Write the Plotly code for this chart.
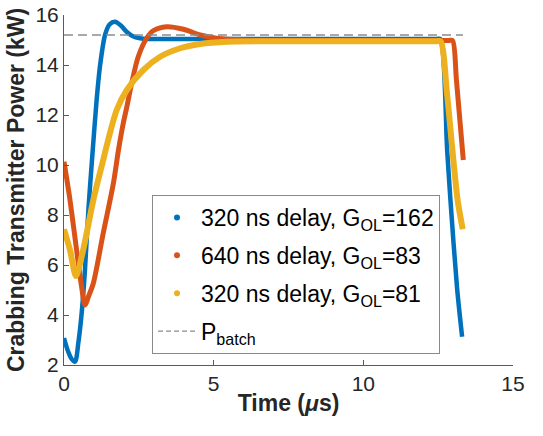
import plotly.graph_objects as go

# ---- data ----
t_blue = [0.0, 0.12, 0.25, 0.37, 0.48, 0.59, 0.70, 0.82, 0.96, 1.09, 1.20, 1.37, 1.52, 1.70,
          1.90, 2.09, 2.30, 2.54, 2.80, 3.5, 6.0, 10.0, 12.0, 12.45, 12.57, 12.80, 12.91, 13.13, 13.30]
p_blue = [3.08, 2.6, 2.25, 2.13, 2.9, 4.07, 5.8, 8.3, 10.6, 12.6, 13.93, 15.2, 15.62, 15.73,
          15.58, 15.33, 15.15, 15.07, 15.04, 15.04, 15.04, 15.04, 15.04, 15.04, 15.04, 10.6, 8.6, 5.1, 3.13]

t_orange = [0.0, 0.2, 0.42, 0.58, 0.70, 0.82, 0.98, 1.31, 1.65, 1.82, 1.98, 2.10, 2.26, 2.48,
            2.76, 2.98, 3.43, 3.99, 4.55, 5.10, 6.0, 8.0, 12.0, 12.85, 12.98, 13.11, 13.34]
p_orange = [10.13, 8.6, 6.6, 5.2, 4.4, 4.75, 5.27, 7.27, 9.27, 10.6, 11.67, 12.33, 13.27, 14.33,
            15.07, 15.37, 15.53, 15.43, 15.2, 15.07, 15.0, 14.98, 14.98, 14.98, 14.98, 13.4, 10.2]

t_yellow = [0.0, 0.2, 0.40, 0.64, 0.98, 1.31, 1.37, 1.76, 2.10, 2.65, 3.21, 3.88, 4.55, 5.44,
            6.5, 8.0, 12.0, 12.45, 12.58, 12.80, 13.0, 13.15, 13.32]
p_yellow = [7.43, 6.6, 5.56, 6.6, 8.6, 10.2, 10.5, 12.2, 13.0, 13.8, 14.33, 14.67, 14.84, 14.93,
            14.95, 14.95, 14.95, 14.95, 14.95, 12.8, 10.3, 8.6, 7.43]

t_batch = [0.0, 13.33]
p_batch = [15.2, 15.2]

names = ["320 ns delay, G<sub>OL</sub>=162",
         "640 ns delay, G<sub>OL</sub>=83",
         "320 ns delay, G<sub>OL</sub>=81"]
colors = ["#0072BD", "#D95319", "#EDB120"]
widths = [4.5, 5, 6]

x_ticks = [0, 5, 10, 15]
y_ticks = [2, 4, 6, 8, 10, 12, 14, 16]

FONT = "Liberation Sans, Arial, Helvetica, sans-serif"

fig = go.Figure()

series = [(t_blue, p_blue), (t_orange, p_orange), (t_yellow, p_yellow)]
for i, (tt, pp) in enumerate(series):
    fig.add_trace(go.Scatter(x=tt, y=pp, mode="lines",
                             line=dict(color=colors[i], width=widths[i], shape="spline", smoothing=0.8),
                             showlegend=False, hoverinfo="skip"))

fig.add_trace(go.Scatter(x=t_batch, y=p_batch, mode="lines",
                         line=dict(color="#8c8c8c", width=1.5, dash="9px,5px"),
                         showlegend=False, hoverinfo="skip"))

# legend entries
for i in range(3):
    fig.add_trace(go.Scatter(x=[None], y=[None], mode="markers", name=names[i],
                             marker=dict(color=colors[i], size=6), legendgroup=f"g{i}"))
fig.add_trace(go.Scatter(x=[None], y=[None], mode="lines", name="P<sub>batch</sub>",
                         line=dict(color="#8c8c8c", width=1.2, dash="5px,3px"), legendgroup="g3"))

axis_common = dict(showline=True, linecolor="#5a5a5a", linewidth=1, ticks="inside", ticklen=5,
                   tickcolor="#5a5a5a", tickwidth=1, showgrid=False, zeroline=False, mirror=False,
                   automargin=False,
                   tickfont=dict(family=FONT, size=21, color="#262626"))

fig.update_layout(
    width=543, height=436,
    margin=dict(l=64, r=30, t=15, b=71),
    paper_bgcolor="white", plot_bgcolor="white",
    font=dict(family=FONT, color="#262626"),
    xaxis=dict(range=[0, 15], tickvals=x_ticks, **axis_common,
               title=dict(text="<b>Time (</b><b><i>μ</i>s)</b>", font=dict(family=FONT, size=23, color="#262626"), standoff=0)),
    yaxis=dict(range=[2, 16], tickvals=y_ticks, **axis_common,
               title=dict(text="<b>Crabbing Transmitter Power (kW)</b>", font=dict(family=FONT, size=23, color="#262626"), standoff=4)),
    legend=dict(x=0.196, y=0.0314, xanchor="left", yanchor="bottom",
                bgcolor="white", bordercolor="#8a8a8a", borderwidth=1,
                font=dict(family=FONT, size=23, color="#000000"),
                traceorder="grouped", tracegroupgap=5, itemwidth=38),
)

fig.write_html("out.html")
